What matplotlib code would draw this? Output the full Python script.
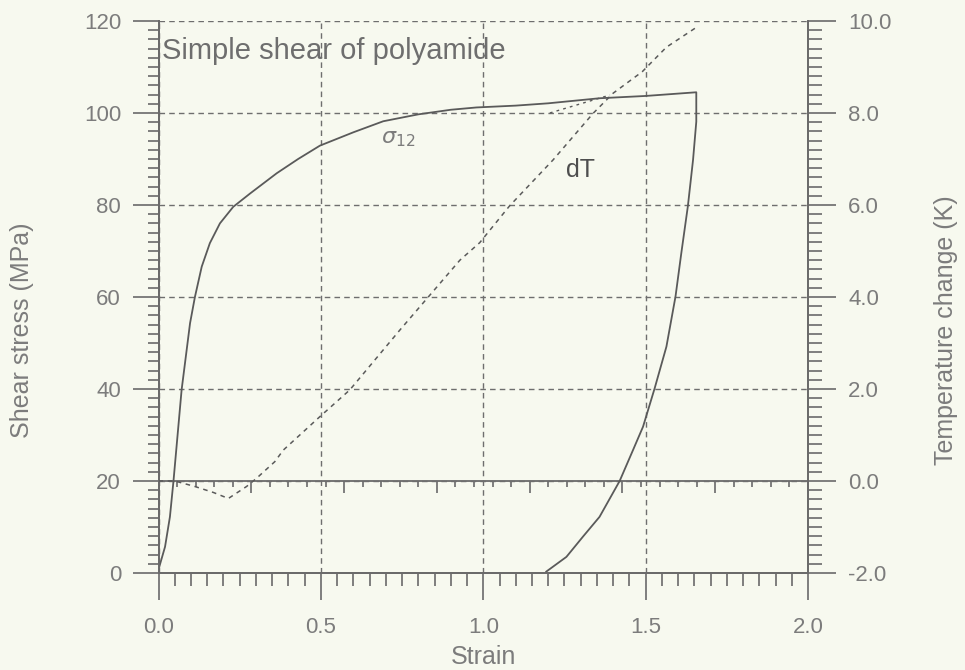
import matplotlib
matplotlib.use("Agg")
import matplotlib.pyplot as plt
from matplotlib.ticker import MultipleLocator, FormatStrFormatter, NullFormatter

plt.rcParams['font.family'] = ['Liberation Sans', 'DejaVu Sans']

# shear stress curve (loading + unloading)
strain_s = [0.0, 0.0025, 0.02, 0.035, 0.046, 0.071, 0.097, 0.112, 0.133, 0.158,
            0.189, 0.23, 0.282, 0.364, 0.43, 0.497, 0.6, 0.692, 0.8, 0.9,
            0.979, 1.1, 1.2, 1.358, 1.5, 1.656, 1.656, 1.646, 1.630, 1.61,
            1.592, 1.564, 1.528, 1.492, 1.461, 1.42, 1.358, 1.307, 1.256, 1.194]
stress = [0.5, 1.4, 5.7, 12.2, 20.0, 39.8, 54.3, 60.0, 66.6, 71.7,
          76.0, 79.6, 82.5, 86.9, 90.0, 92.9, 95.8, 98.2, 99.7, 100.7,
          101.2, 101.6, 102.1, 103.2, 103.7, 104.5, 98.1, 89.8, 79.7, 69.6,
          60.1, 49.2, 40.2, 31.8, 26.7, 20.0, 12.2, 7.9, 3.5, 0.3]

# temperature change curve
strain_t = [0.0, 0.05, 0.112, 0.169, 0.215, 0.271, 0.302, 0.358, 0.384, 0.497,
            0.589, 0.743, 0.928, 0.989, 1.081, 1.215, 1.338, 1.40, 1.49, 1.564, 1.656]
dT = [0.0, 0.0, -0.12, -0.25, -0.38, -0.12, 0.06, 0.42, 0.67, 1.40,
      1.98, 3.28, 4.80, 5.18, 5.98, 6.98, 7.99, 8.43, 8.90, 9.43, 9.86]
strain_tb = [1.205, 1.30, 1.39]
dT_b = [8.0, 8.2, 8.39]

bg = '#f7f9ef'
txt = '#7c7c7c'
ink = '#5a5a5a'
axc = '#6a6a6a'

fig = plt.figure(figsize=(9.65, 6.7), dpi=100, facecolor=bg)
ax = fig.add_axes([0.1643, 0.1448, 0.6730, 0.8239])
ax.set_facecolor(bg)
ax2 = ax.twinx()

ax.set_xlim(0, 2.0)
ax.set_ylim(0, 120)
ax2.set_ylim(-2.0, 10.0)

# grid
ax.grid(True, which='major', color='#6e6e6e', linestyle=(0, (4, 3)), linewidth=1.0)

# curves
ax.plot(strain_s, stress, color=ink, linewidth=1.3, zorder=5)
ax2.plot(strain_t, dT, color=ink, linewidth=1.1, linestyle=(0, (3, 3)), zorder=5)
ax2.plot(strain_tb, dT_b, color=ink, linewidth=1.0, linestyle=(0, (2, 3)), zorder=5)

# axes styling
for a in (ax, ax2):
    a.spines['top'].set_visible(False)
    for s in a.spines.values():
        s.set_color(axc)
        s.set_linewidth(1.3)

ax.xaxis.set_major_locator(MultipleLocator(0.5))
ax.xaxis.set_minor_locator(MultipleLocator(0.05))
ax.xaxis.set_major_formatter(FormatStrFormatter('%.1f'))
ax.yaxis.set_major_locator(MultipleLocator(20))
ax.yaxis.set_minor_locator(MultipleLocator(2))
ax2.yaxis.set_major_locator(MultipleLocator(2))
ax2.yaxis.set_minor_locator(MultipleLocator(0.2))
ax2.yaxis.set_major_formatter(FormatStrFormatter('%.1f'))

ax.tick_params(axis='x', which='major', direction='out', length=19.5, width=1.2,
               color=axc, labelcolor=txt, labelsize=16, pad=12)
ax.tick_params(axis='x', which='minor', direction='out', length=9.5, width=1.2, color=axc)
ax.tick_params(axis='y', which='major', direction='out', length=19, width=1.2,
               color=axc, labelcolor=txt, labelsize=16, pad=8)
ax.tick_params(axis='y', which='minor', direction='out', length=8, width=1.2, color=axc)
ax2.tick_params(axis='y', which='major', direction='out', length=20, width=1.2,
                color=axc, labelcolor=txt, labelsize=16, pad=9)
ax2.tick_params(axis='y', which='minor', direction='out', length=10, width=1.2, color=axc)

# secondary axis line at dT = 0
sec = ax.secondary_xaxis(2 / 12, functions=(lambda x: x * 3.5, lambda t: t / 3.5))
sec.set_alignment('bottom')
sec.spines['bottom'].set_color(axc)
sec.spines['bottom'].set_linewidth(1.3)
sec.xaxis.set_major_locator(MultipleLocator(1))
sec.xaxis.set_minor_locator(MultipleLocator(0.2))
sec.xaxis.set_major_formatter(NullFormatter())
sec.tick_params(axis='x', which='major', direction='out', length=8.5, width=1.2, color=axc)
sec.tick_params(axis='x', which='minor', direction='out', length=4.5, width=1.2, color=axc)

ax.set_xlabel('Strain', color=txt, fontsize=18)
ax.set_ylabel('Shear stress (MPa)', color=txt, fontsize=18)
ax2.set_ylabel('Temperature change (K)', color=txt, fontsize=18)
ax.xaxis.set_label_coords(0.5, -0.152)
ax.xaxis.label.set_va('center')
ax.yaxis.set_label_coords(-0.210, 0.44)
ax.yaxis.label.set_va('center')
ax2.yaxis.set_label_coords(1.212, 0.44)
ax2.yaxis.label.set_va('center')

ax.text(0.012, 113.5, 'Simple shear of polyamide', color='#6e6e6e', fontsize=21,
        ha='left', va='center')
ax.text(0.685, 94.5, r'$\sigma_{12}$', color=txt, fontsize=16, ha='left', va='center')
ax.text(1.255, 87.5, 'dT', color='#4e4e4e', fontsize=18, ha='left', va='center')

fig.savefig('out.png', dpi=100, facecolor=bg)
